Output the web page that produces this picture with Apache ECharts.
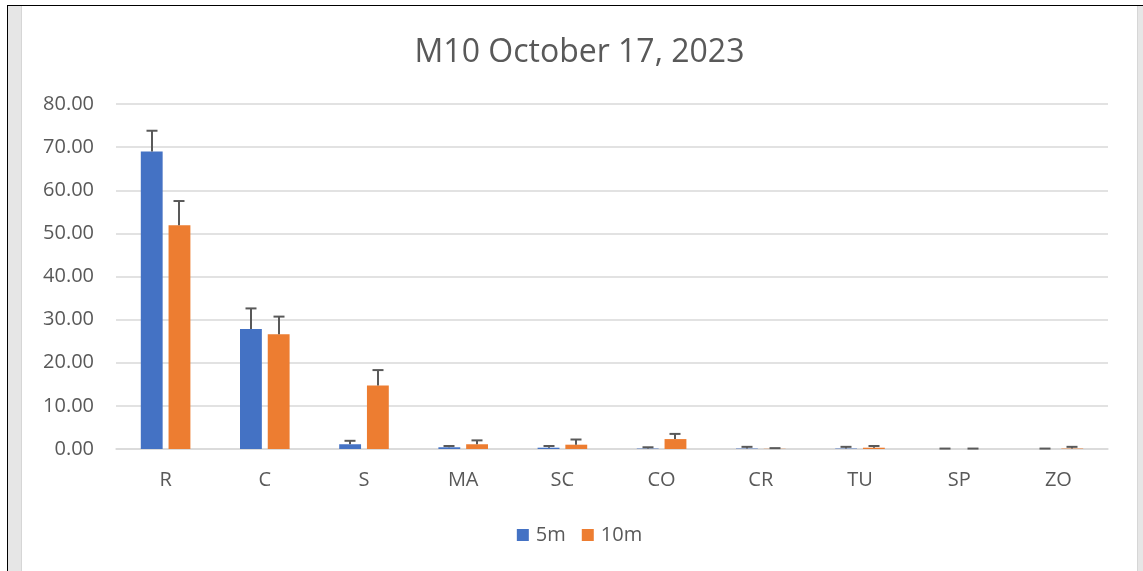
<!DOCTYPE html>
<html>
<head>
<meta charset="utf-8">
<script src="https://cdn.jsdelivr.net/npm/echarts@6/dist/echarts.min.js"></script>
<style>
  html, body { margin: 0; padding: 0; background: #ffffff; }
  body { width: 1143px; height: 571px; position: relative; overflow: hidden; }
  /* frame around the chart area */
  .edge-top { position: absolute; left: 7px; top: 5px; width: 1136px; height: 1px; background: #000; }
  .edge-left { position: absolute; left: 7px; top: 5px; width: 1px; height: 566px; background: #000; }
  .strip-left { position: absolute; left: 8px; top: 6px; width: 13px; height: 565px; background: #e6e6e6; border-right: 1px solid #d6d6d6; }
  .strip-right { position: absolute; left: 1137px; top: 6px; width: 6px; height: 565px; background: #e6e6e6; border-left: 1px solid #d6d6d6; }
  #chart { position: absolute; left: 22px; top: 6px; width: 1115px; height: 565px; }
</style>
</head>
<body>
<div class="edge-top"></div>
<div class="edge-left"></div>
<div class="strip-left"></div>
<div class="strip-right"></div>
<div id="chart"></div>
<script>
const categories = ['R', 'C', 'S', 'MA', 'SC', 'CO', 'CR', 'TU', 'SP', 'ZO'];
const seriesNames = ['5m', '10m'];
const values5m  = [69.0, 27.8, 1.1, 0.4, 0.3, 0.1, 0.1, 0.1, 0.0, 0.0];
const err5m     = [4.8, 4.8, 0.8, 0.3, 0.4, 0.3, 0.4, 0.4, 0.1, 0.1];
const values10m = [51.9, 26.6, 14.7, 1.1, 1.0, 2.3, 0.05, 0.3, 0.0, 0.1];
const err10m    = [5.6, 4.1, 3.6, 0.9, 1.2, 1.2, 0.15, 0.4, 0.1, 0.4];
const yTicks = [0, 10, 20, 30, 40, 50, 60, 70, 80];

const COLORS = ['#4472C4', '#ED7D31'];
const TEXT = '#595959';
const FONT = '"Open Sans", "Liberation Sans", sans-serif';
const CAT_GAP = 0.5;   // barCategoryGap as fraction
const BAR_GAP = 0.27;  // barGap as fraction of bar width

// plus-only error whiskers placed over each bar of a group
function errorSeries(values, errs, side) {
  return {
    type: 'custom',
    name: seriesNames[side < 0 ? 0 : 1] + ' err',
    silent: true,
    z: 5,
    data: categories.map((c, i) => [i, values[i], values[i] + errs[i]]),
    renderItem: function (params, api) {
      const band = api.size([1, 0])[0];
      const w = band * (1 - CAT_GAP) / (2 + BAR_GAP);
      const off = side * w * (1 + BAR_GAP) / 2;
      const lo = api.coord([api.value(0), api.value(1)]);
      const hi = api.coord([api.value(0), api.value(2)]);
      const x = Math.round(lo[0] + off);
      const half = 5.5;
      const style = { stroke: TEXT, lineWidth: 2, fill: null };
      return {
        type: 'group',
        children: [
          { type: 'line', shape: { x1: x, y1: lo[1], x2: x, y2: hi[1] }, style: style },
          { type: 'line', shape: { x1: x - half, y1: hi[1], x2: x + half, y2: hi[1] }, style: style }
        ]
      };
    }
  };
}

const chart = echarts.init(document.getElementById('chart'), null, { renderer: 'canvas' });
chart.setOption({
  animation: false,
  color: COLORS,
  title: {
    text: 'M10 October 17, 2023',
    left: 'center',
    top: 22,
    textStyle: { color: TEXT, fontFamily: FONT, fontSize: 32, fontWeight: 'normal', lineHeight: 40 }
  },
  legend: {
    data: seriesNames,
    left: 'center',
    top: 514,
    icon: 'rect',
    itemWidth: 12,
    itemHeight: 12,
    itemGap: 16,
    textStyle: { color: TEXT, fontFamily: FONT, fontSize: 20, lineHeight: 20, padding: [0, 0, 0, 2] }
  },
  grid: { left: 94, right: 29, top: 98, bottom: 122, containLabel: false },
  xAxis: {
    type: 'category',
    data: categories,
    axisLine: { show: true, lineStyle: { color: '#d9d9d9', width: 1.5 } },
    axisTick: { show: false },
    axisLabel: { color: TEXT, fontFamily: FONT, fontSize: 20, margin: 21, lineHeight: 20 }
  },
  yAxis: {
    type: 'value',
    min: yTicks[0],
    max: yTicks[yTicks.length - 1],
    interval: 10,
    axisLine: { show: false },
    axisTick: { show: false },
    splitLine: { lineStyle: { color: '#d9d9d9', width: 1.5 } },
    axisLabel: {
      color: TEXT, fontFamily: FONT, fontSize: 20, margin: 22,
      formatter: v => v.toFixed(2)
    }
  },
  series: [
    {
      name: seriesNames[0], type: 'bar', data: values5m,
      barCategoryGap: (CAT_GAP * 100) + '%', barGap: (BAR_GAP * 100) + '%',
      itemStyle: { color: COLORS[0] }
    },
    {
      name: seriesNames[1], type: 'bar', data: values10m,
      barCategoryGap: (CAT_GAP * 100) + '%', barGap: (BAR_GAP * 100) + '%',
      itemStyle: { color: COLORS[1] }
    },
    errorSeries(values5m, err5m, -1),
    errorSeries(values10m, err10m, 1)
  ]
});
</script>
</body>
</html>
